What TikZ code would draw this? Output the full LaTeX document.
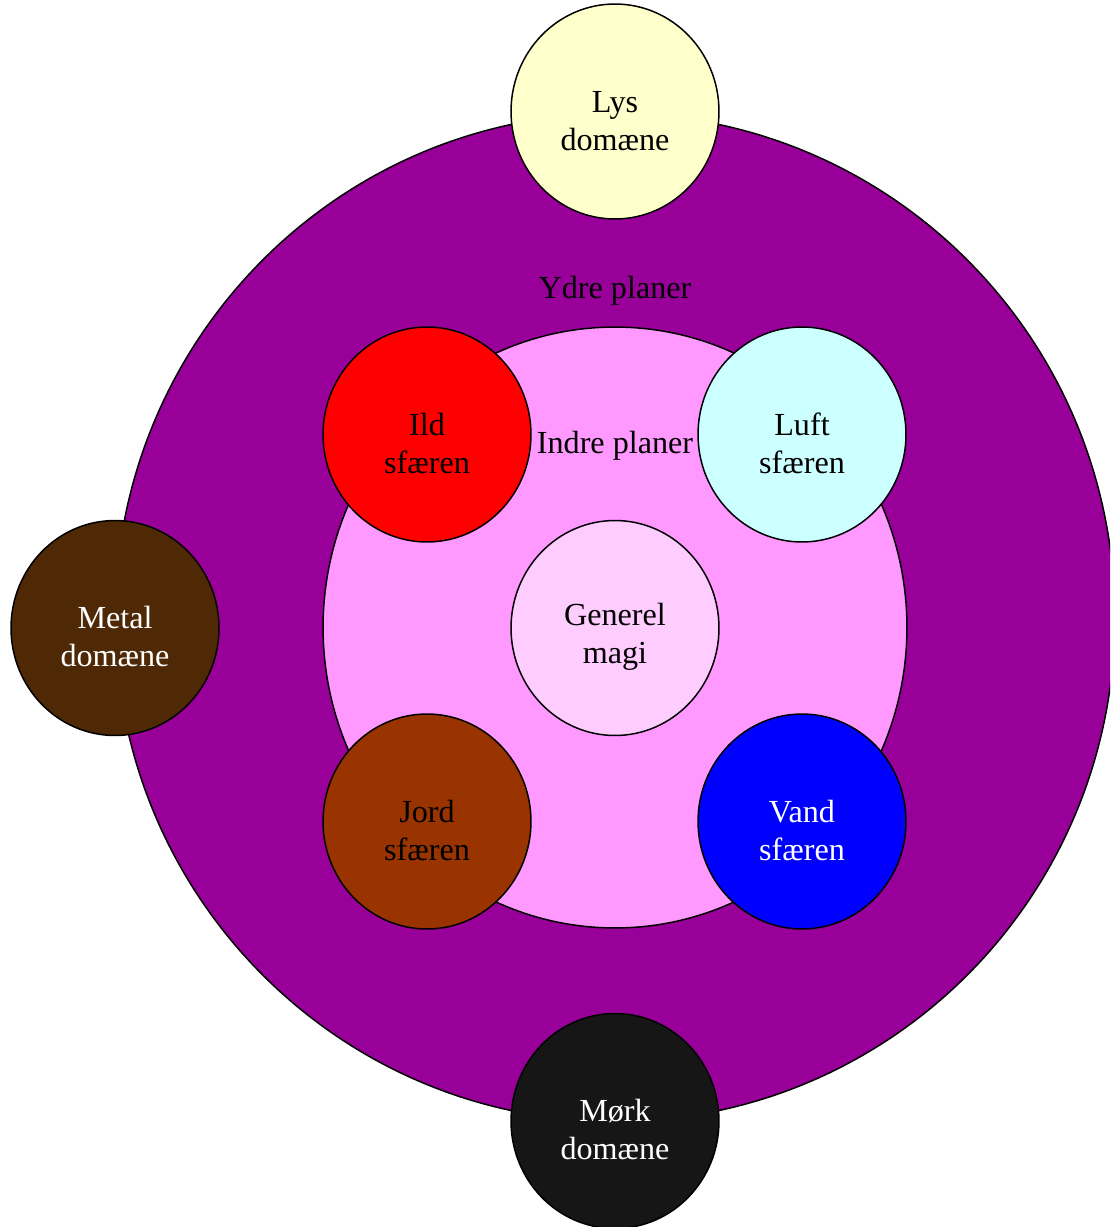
\documentclass[tikz,border=0pt]{standalone}
\usepackage{fontspec}
\setmainfont{Liberation Serif}
\usetikzlibrary{positioning, shapes.geometric}
\definecolor{ydre}{HTML}{990099}
\definecolor{indre}{HTML}{FF99FF}
\definecolor{lys}{HTML}{FFFFCC}
\definecolor{luft}{HTML}{CCFFFF}
\definecolor{ild}{HTML}{FF0000}
\definecolor{generel}{HTML}{FFCCFF}
\definecolor{metal}{HTML}{4F2905}
\definecolor{jord}{HTML}{993300}
\definecolor{vand}{HTML}{0000FF}
\definecolor{moerk}{HTML}{161616}
\newcommand{\SphereText}[2]{\rule{0pt}{0.8cm}#1\\#2}
\tikzset{
    plane/.style={ellipse, draw, line width=0.85pt, inner sep=0pt},
    sphere/.style={ellipse, draw, line width=0.85pt, inner sep=0pt, align=center,
      minimum width=4.16cm, minimum height=4.3cm},
    label text/.style={inner sep=0pt},
}

\begin{document}
\begin{tikzpicture}[x=0.02cm, y=-0.02cm]
    \fontsize{18.3}{21.5}\selectfont
    \useasboundingbox (0,0) rectangle (1110,1227);
    \clip (0,0) rectangle (1110,1227);

    \node[plane, fill=ydre, minimum width=20cm, minimum height=20.16cm] (ydre) at (615,617.5) {};
    \node[plane, fill=indre, minimum width=11.68cm, minimum height=12.02cm] (indre) at (615,627.5) {};

    \node[label text] (ydretxt) at (615,291) {Ydre planer};
    \node[label text] (indretxt) at (615,446) {Indre planer};

    \node[sphere, fill=lys] (lys) at (615,111.5) {\SphereText{Lys}{domæne}};
    \node[sphere, fill=moerk, text=white] (moerk) at (615,1121) {\SphereText{Mørk}{domæne}};
    \node[sphere, fill=metal, text=white] (metal) at (115,628) {\SphereText{Metal}{domæne}};
    \node[sphere, fill=generel] (generel) at (615,628) {\SphereText{Generel}{magi}};

    \node[sphere, fill=ild] (ild) at (427,434.5) {\SphereText{Ild}{sfæren}};
    \node[sphere, fill=luft] (luft) at (802,434.5) {\SphereText{Luft}{sfæren}};
    \node[sphere, fill=jord] (jord) at (427,821.5) {\SphereText{Jord}{sfæren}};
    \node[sphere, fill=vand, text=white] (vand) at (802,821.5) {\SphereText{Vand}{sfæren}};
\end{tikzpicture}
\end{document}
